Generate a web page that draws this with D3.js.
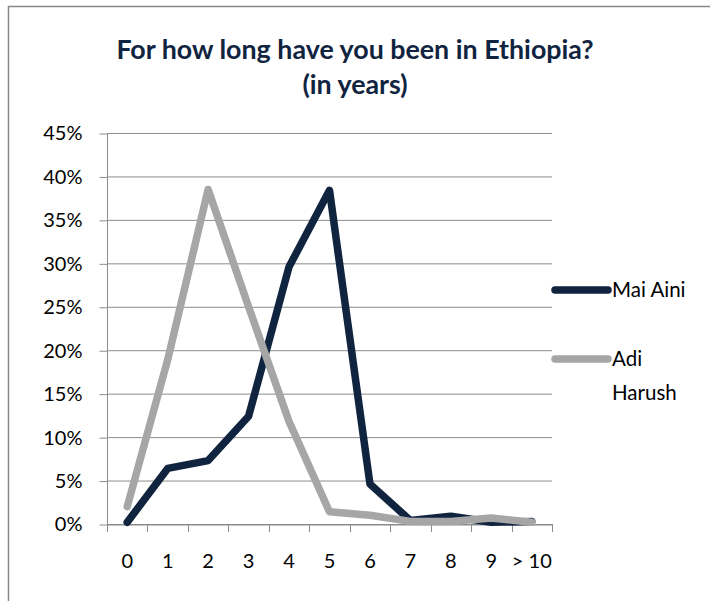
<!DOCTYPE html>
<html><head><meta charset="utf-8">
<script src="https://cdn.jsdelivr.net/npm/d3@7/dist/d3.min.js"></script>
<style>body{margin:0;background:#fff}svg{display:block}text{font-family:Lato,"Open Sans",sans-serif}</style>
</head><body>
<svg id="c" width="710" height="601"></svg>
<script>
const categories = ["0","1","2","3","4","5","6","7","8","9","> 10"];
const maiAini = [0.2,6.4,7.3,12.4,29.6,38.4,4.6,0.4,0.9,0.2,0.3];
const adiHarush = [2.0,18.9,38.5,25.0,11.8,1.4,1.0,0.3,0.3,0.7,0.2];
const yTicks = [0,5,10,15,20,25,30,35,40,45];
const seriesNames = ["Mai Aini","Adi Harush"];
const colors = ["#10243F","#A6A6A6"];

const svg = d3.select("#c");
svg.append("rect").attr("x",8.5).attr("y",6.5).attr("width",720).attr("height",620)
  .attr("fill","none").attr("stroke","#888").attr("stroke-width",1.5);

const title = svg.append("text").attr("text-anchor","middle").attr("fill","#10243F")
  .attr("font-weight","bold").attr("font-size",26.8);
title.append("tspan").attr("x",355).attr("y",59).text("For how long have you been in Ethiopia?");
title.append("tspan").attr("x",355).attr("y",94).text("(in years)");

const x = d3.scaleBand().domain(categories).range([107,552]);
const y = d3.scaleLinear().domain([0,45]).range([524,133]);

svg.append("g").selectAll("line").data(yTicks).join("line")
  .attr("x1",107).attr("x2",552).attr("y1",d=>y(d)+0.5).attr("y2",d=>y(d)+0.5)
  .attr("stroke","#8c8c8c").attr("stroke-width",1);

const ya = svg.append("g").attr("transform","translate(107.5,0.5)")
  .call(d3.axisLeft(y).tickValues(yTicks).tickSize(8).tickPadding(17).tickFormat(d=>d+"%"));
ya.select(".domain").attr("stroke","#8c8c8c").attr("d","M0,"+(y(45)-0.5)+"V"+(y(0)-0.5));
ya.selectAll(".tick line").attr("stroke","#8c8c8c");
ya.selectAll("text").attr("font-size",20).attr("fill","#000").attr("font-family","Lato");

const xa = svg.append("g").attr("transform","translate(0,"+(y(0)+0.5)+")")
  .call(d3.axisBottom(x).tickSize(0).tickPadding(29));
xa.select(".domain").attr("stroke","#8c8c8c");
xa.selectAll("text").attr("font-size",20).attr("fill","#000").attr("font-family","Lato");
const bounds = categories.map(c=>x(c)).concat([x.range()[1]]);
svg.append("g").selectAll("line").data(bounds).join("line")
  .attr("x1",d=>Math.round(d)+0.5).attr("x2",d=>Math.round(d)+0.5)
  .attr("y1",y(0)).attr("y2",y(0)+8).attr("stroke","#8c8c8c");

const line = d3.line().x((d,i)=>x(categories[i])+x.bandwidth()/2).y(d=>y(d));
[maiAini, adiHarush].forEach((s,i)=>{
  svg.append("path").datum(s).attr("d",line).attr("fill","none")
    .attr("stroke",colors[i]).attr("stroke-width",7.5)
    .attr("stroke-linejoin","round").attr("stroke-linecap","round");
});
const lg = svg.append("g");
const ly = [290,359];
seriesNames.forEach((n,i)=>{
  lg.append("line").attr("x1",555).attr("x2",608).attr("y1",ly[i]).attr("y2",ly[i])
    .attr("stroke",colors[i]).attr("stroke-width",7.5).attr("stroke-linecap","round");
});
lg.append("text").attr("x",612).attr("y",ly[0]+7).attr("font-size",20.5).text("Mai Aini");
const t2 = lg.append("text").attr("font-size",20.5);
t2.append("tspan").attr("x",612).attr("y",ly[1]+7).text("Adi");
t2.append("tspan").attr("x",612).attr("y",ly[1]+41).text("Harush");
</script>
</body></html>
